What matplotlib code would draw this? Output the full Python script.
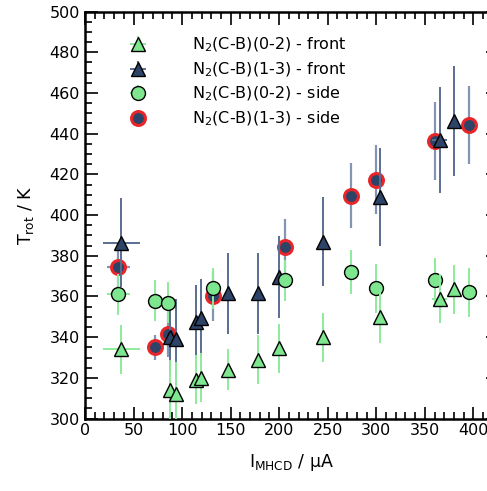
import numpy as np
import matplotlib.pyplot as plt
from matplotlib.ticker import MultipleLocator

plt.rcParams['font.family'] = 'DejaVu Sans'
plt.rcParams['mathtext.default'] = 'regular'

GREEN = '#7EE68E'
NAVY = '#2D4368'
RED = '#E8262A'
GREEN_ERR = '#8DEB9B'
NAVY_ERR = '#5A6D92'

# ── data: front (triangles) ──────────────────────────────────────────────────
x_front = [37.5, 87.7, 93.6, 114.6, 119.4, 147.2, 178.2, 200.2, 245.3, 303.4, 365.3, 380.5]
xerr_front = [19, 1.5, 1.5, 1.5, 1.5, 1.5, 1.5, 1.5, 1.5, 1.5, 7.5, 1.5]

t02_front = [334, 314, 312, 319, 320, 324, 329, 334.5, 340, 350, 359, 363.5]
e02_front = [12, 15, 16, 12, 12, 10, 12, 12, 12, 13, 12, 12]

t13_front = [386.5, 340, 339, 347.5, 349.5, 361.5, 361.5, 369.5, 387, 409, 437, 446]
e13_front = [22, 17, 20, 18, 19, 20, 20, 20, 22, 24, 26, 27]

# ── data: side (circles) ─────────────────────────────────────────────────────
x_side = [34.4, 72.6, 85.5, 131.8, 206.4, 273.8, 299.3, 360.0, 395.6]
xerr_side = [12, 1.5, 1.5, 1.5, 1.5, 1.5, 1.5, 1.5, 1.5]

t02_side = [361, 358, 357, 364, 368, 372, 364, 368, 362]
e02_side = [10, 10, 10, 10, 10, 11, 12, 11, 12]

t13_side = [374.3, 335, 341.4, 360.2, 384.2, 409.4, 417.3, 436.4, 444.3]
e13_side = [12, 6, 11, 12.5, 14, 16, 17, 19, 19]

fig = plt.figure(figsize=(4.87, 4.91), dpi=100)
# right spine sits just outside the canvas, as in the original
ax = fig.add_axes([0.1745, 0.1475, 0.8475, 0.829])

h4 = ax.errorbar(x_side, t13_side, yerr=e13_side, xerr=xerr_side, fmt='o',
                 ms=10, mfc=NAVY, mec=RED, mew=2.2, ecolor='#8394B5',
                 elinewidth=1.6, capsize=0, zorder=3,
                 label='N$_2$(C-B)(1-3) - side')
h2 = ax.errorbar(x_front, t13_front, yerr=e13_front, xerr=xerr_front, fmt='^',
                 ms=10.5, mfc=NAVY, mec='black', mew=1.0, ecolor=NAVY_ERR,
                 elinewidth=1.4, capsize=0, zorder=4,
                 label='N$_2$(C-B)(1-3) - front')
h3 = ax.errorbar(x_side, t02_side, yerr=e02_side, xerr=xerr_side, fmt='o',
                 ms=10, mfc=GREEN, mec='black', mew=1.0, ecolor=GREEN_ERR,
                 elinewidth=1.4, capsize=0, zorder=5,
                 label='N$_2$(C-B)(0-2) - side')
h1 = ax.errorbar(x_front, t02_front, yerr=e02_front, xerr=xerr_front, fmt='^',
                 ms=10.5, mfc=GREEN, mec='black', mew=1.0, ecolor=GREEN_ERR,
                 elinewidth=1.4, capsize=0, zorder=6,
                 label='N$_2$(C-B)(0-2) - front')

ax.set_xlim(0, 425)
ax.set_ylim(300, 500)
ax.xaxis.set_major_locator(MultipleLocator(50))
ax.xaxis.set_minor_locator(MultipleLocator(10))
ax.yaxis.set_major_locator(MultipleLocator(20))
ax.yaxis.set_minor_locator(MultipleLocator(5))
ax.tick_params(which='both', direction='in', top=True, right=True,
               labelsize=11.5, width=1.2)
ax.tick_params(which='major', length=9)
ax.tick_params(which='minor', length=5)
for s in ax.spines.values():
    s.set_linewidth(1.8)

ax.set_xlabel('I$_{MHCD}$ / μA', fontsize=12.5, labelpad=10)
ax.set_ylabel('T$_{rot}$ / K', fontsize=12.5, labelpad=10)

ax.legend([h1, h2, h3, h4],
          [h1.get_label(), h2.get_label(), h3.get_label(), h4.get_label()],
          loc='upper left', bbox_to_anchor=(0.054, 0.975), frameon=False,
          fontsize=11.5, handletextpad=2.4, labelspacing=0.38)

fig.savefig('out.png', dpi=100)
